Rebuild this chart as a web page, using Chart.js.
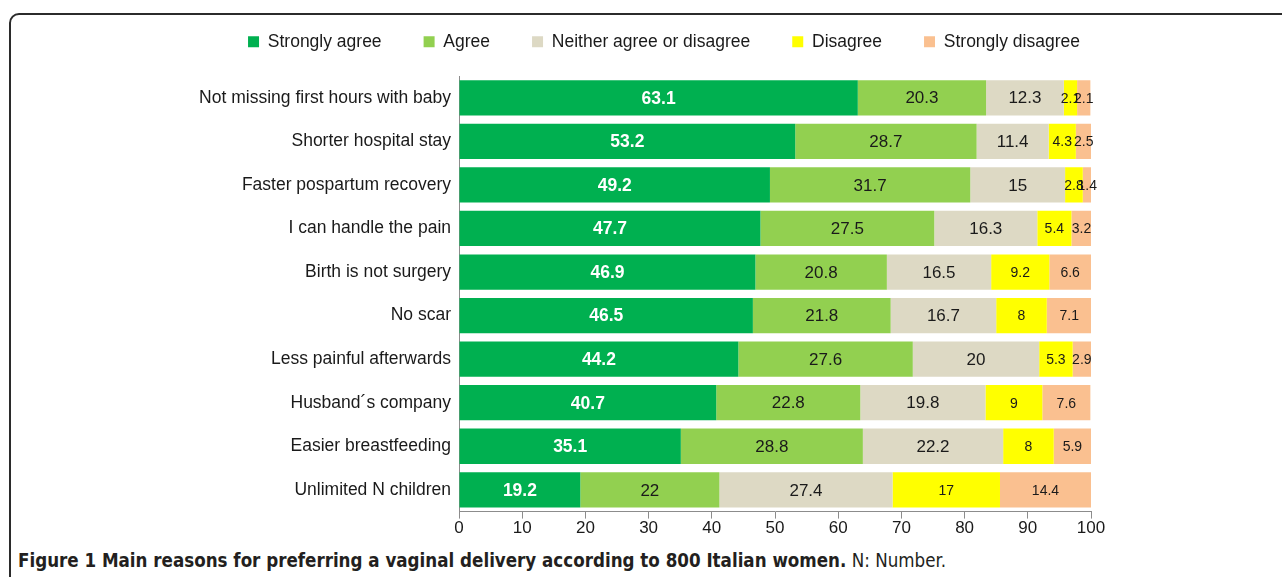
<!DOCTYPE html>
<html>
<head>
<meta charset="utf-8">
<script src="https://cdn.jsdelivr.net/npm/chart.js@4.4.0/dist/chart.umd.min.js"></script>
<style>
  html, body { margin: 0; padding: 0; background: #fff; overflow: hidden; }
  #frame {
    position: absolute; left: 9px; top: 13px; width: 1300px; height: 600px;
    border: 2px solid #2b2b2b; border-radius: 10px; box-sizing: border-box;
  }
  #wrap { position: absolute; left: 0; top: 0; width: 1282px; height: 540px; }
  #caption {
    position: absolute; left: 18px; top: 550px; white-space: nowrap;
    font-family: "Liberation Sans Narrow", "DejaVu Sans Condensed", sans-serif;
    font-size: 18.6px; color: #231f20;
  }
  #caption b { font-weight: bold; }
</style>
</head>
<body>
<div id="frame"></div>
<div id="wrap"><canvas id="myChart"></canvas></div>
<div id="caption"><b>Figure 1 Main reasons for preferring a vaginal delivery according to 800 Italian women.</b> N: Number.</div>
<script>
const categories = [
  'Not missing first hours with baby',
  'Shorter hospital stay',
  'Faster pospartum recovery',
  'I can handle the pain',
  'Birth is not surgery',
  'No scar',
  'Less painful afterwards',
  'Husband\u00b4s company',
  'Easier breastfeeding',
  'Unlimited N children'
]

const stronglyAgree = [63.1, 53.2, 49.2, 47.7, 46.9, 46.5, 44.2, 40.7, 35.1, 19.2]
const agree = [20.3, 28.7, 31.7, 27.5, 20.8, 21.8, 27.6, 22.8, 28.8, 22]
const neither = [12.3, 11.4, 15, 16.3, 16.5, 16.7, 20, 19.8, 22.2, 27.4]
const disagree = [2.1, 4.3, 2.8, 5.4, 9.2, 8, 5.3, 9, 8, 17]
const stronglyDisagree = [2.1, 2.5, 1.4, 3.2, 6.6, 7.1, 2.9, 7.6, 5.9, 14.4]

const xTicks = [0, 10, 20, 30, 40, 50, 60, 70, 80, 90, 100]

const FONT = '"Liberation Sans", Arial, sans-serif'

function makeSet(label, values, color) {
  return {
    label: label,
    data: values,
    backgroundColor: color,
    borderWidth: 0,
    barPercentage: 0.81,
    categoryPercentage: 1.0,
  }
}

const data = {
  labels: categories,
  datasets: [
    makeSet('Strongly agree', stronglyAgree, '#00b050'),
    makeSet('Agree', agree, '#92d050'),
    makeSet('Neither agree or disagree', neither, '#ddd9c4'),
    makeSet('Disagree', disagree, '#ffff00'),
    makeSet('Strongly disagree', stronglyDisagree, '#fac090'),
  ],
}

// value labels in the middle of each segment
const barLabels = {
  id: 'barLabels',
  afterDatasetsDraw(chart) {
    const ctx = chart.ctx
    chart.data.datasets.forEach((ds, di) => {
      const meta = chart.getDatasetMeta(di)
      meta.data.forEach((bar, i) => {
        const cx = (bar.x + bar.base) / 2
        ctx.save()
        ctx.textAlign = 'center'
        ctx.textBaseline = 'middle'
        if (di === 0) {
          ctx.fillStyle = '#ffffff'
          ctx.font = 'bold 17.5px ' + FONT
        } else if (di < 3) {
          ctx.fillStyle = '#1a1a1a'
          ctx.font = '17px ' + FONT
        } else {
          ctx.fillStyle = '#1a1a1a'
          ctx.font = '14px ' + FONT
        }
        ctx.fillText(String(ds.data[i]), cx, bar.y + 1)
        ctx.restore()
      })
    })
  }
}

// fixed legend box height so the plot starts where the original does
const legendGap = {
  id: 'legendGap',
  beforeInit(chart) {
    const fit = chart.legend.fit
    chart.legend.fit = function () {
      fit.bind(chart.legend)()
      this.height = 85
    }
  }
}

const config = {
  type: 'bar',
  data: data,
  plugins: [barLabels, legendGap],
  options: {
    indexAxis: 'y',
    responsive: true,
    maintainAspectRatio: false,
    animation: false,
    layout: {
      padding: { left: 46, right: 0, top: -9, bottom: 1 },
    },
    scales: {
      x: {
        stacked: true,
        min: 0,
        max: 100,
        afterBuildTicks(scale) {
          scale.ticks = xTicks.map(v => ({ value: v }))
        },
        grid: {
          display: true,
          drawOnChartArea: false,
          drawTicks: true,
          tickLength: 7,
          color: '#8c8c8c',
        },
        border: { display: true, color: '#8c8c8c', width: 1 },
        ticks: {
          padding: 0,
          color: '#1a1a1a',
          font: { family: FONT, size: 17 },
          maxRotation: 0,
        },
      },
      y: {
        stacked: true,
        afterFit(scale) {
          scale.width = 459 - 46
        },
        grid: { display: false, drawTicks: false },
        border: { display: true, color: '#8c8c8c', width: 1 },
        ticks: {
          padding: 8,
          color: '#1a1a1a',
          font: { family: FONT, size: 17.5 },
        },
      },
      // empty axis on the right, only to keep the plot narrower than the legend row
      yRight: {
        type: 'category',
        position: 'right',
        display: true,
        grid: { display: false, drawTicks: false },
        border: { display: false },
        ticks: { display: false },
        afterFit(scale) {
          scale.width = 1282 - 1091
        },
      },
    },
    plugins: {
      legend: {
        position: 'top',
        labels: {
          boxWidth: 11,
          boxHeight: 11,
          padding: 42,
          color: '#1a1a1a',
          font: { family: FONT, size: 17.5 },
        },
      },
      tooltip: { enabled: false },
    },
  },
}

const chart = new Chart(document.getElementById('myChart'), config)
</script>
</body>
</html>
